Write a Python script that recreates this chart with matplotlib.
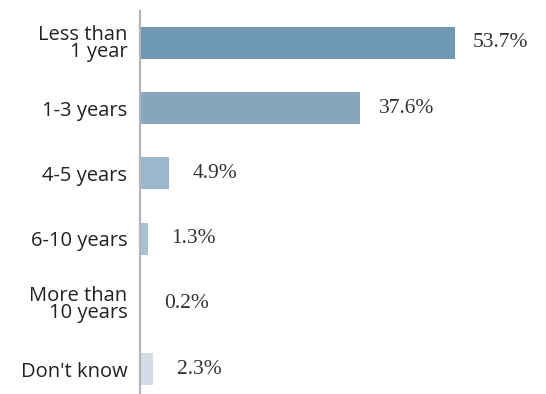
import matplotlib.pyplot as plt

# Survey answers (share of respondents, %)
categories = ["Less than\n1 year", "1-3 years", "4-5 years", "6-10 years",
              "More than\n10 years", "Don't know"]
values = [53.7, 37.6, 4.9, 1.3, 0.2, 2.3]
bar_colors = ["#6f98b2", "#86a6bd", "#9bb7cb", "#a9c2d2", "#bfd5e2", "#d3dde7"]
value_labels = ["53.7%", "37.6%", "4.9%", "1.3%", "0.2%", "2.3%"]

fig = plt.figure(figsize=(5.46, 3.94), dpi=100)
ax = fig.add_axes([140 / 546, 0, 1 - 140 / 546, 383 / 394])

y = list(range(len(categories)))
ax.barh(y, values, height=0.49, color=bar_colors)

# labels sit ~46 px right of the bar end (offset given in points)
for yi, v, lab in zip(y, values, value_labels):
    ax.annotate(lab, (v, yi), xytext=(33, 0), textcoords="offset points",
                ha="center", va="center", fontsize=15.5,
                family="Liberation Serif", color="#333333")

ax.set_xlim(0, 69.3)
ax.set_ylim(5.38, -0.49)
ax.set_yticks(y)
ax.set_yticklabels(categories, fontsize=14.5, family="Open Sans",
                   color="#222222", linespacing=0.8)
ax.tick_params(axis="y", length=0, pad=9)
ax.set_xticks([])

for side in ["top", "right", "bottom"]:
    ax.spines[side].set_visible(False)
ax.spines["left"].set_color("#b4b4bc")
ax.spines["left"].set_linewidth(1.6)

fig.savefig("out.png", dpi=100)
